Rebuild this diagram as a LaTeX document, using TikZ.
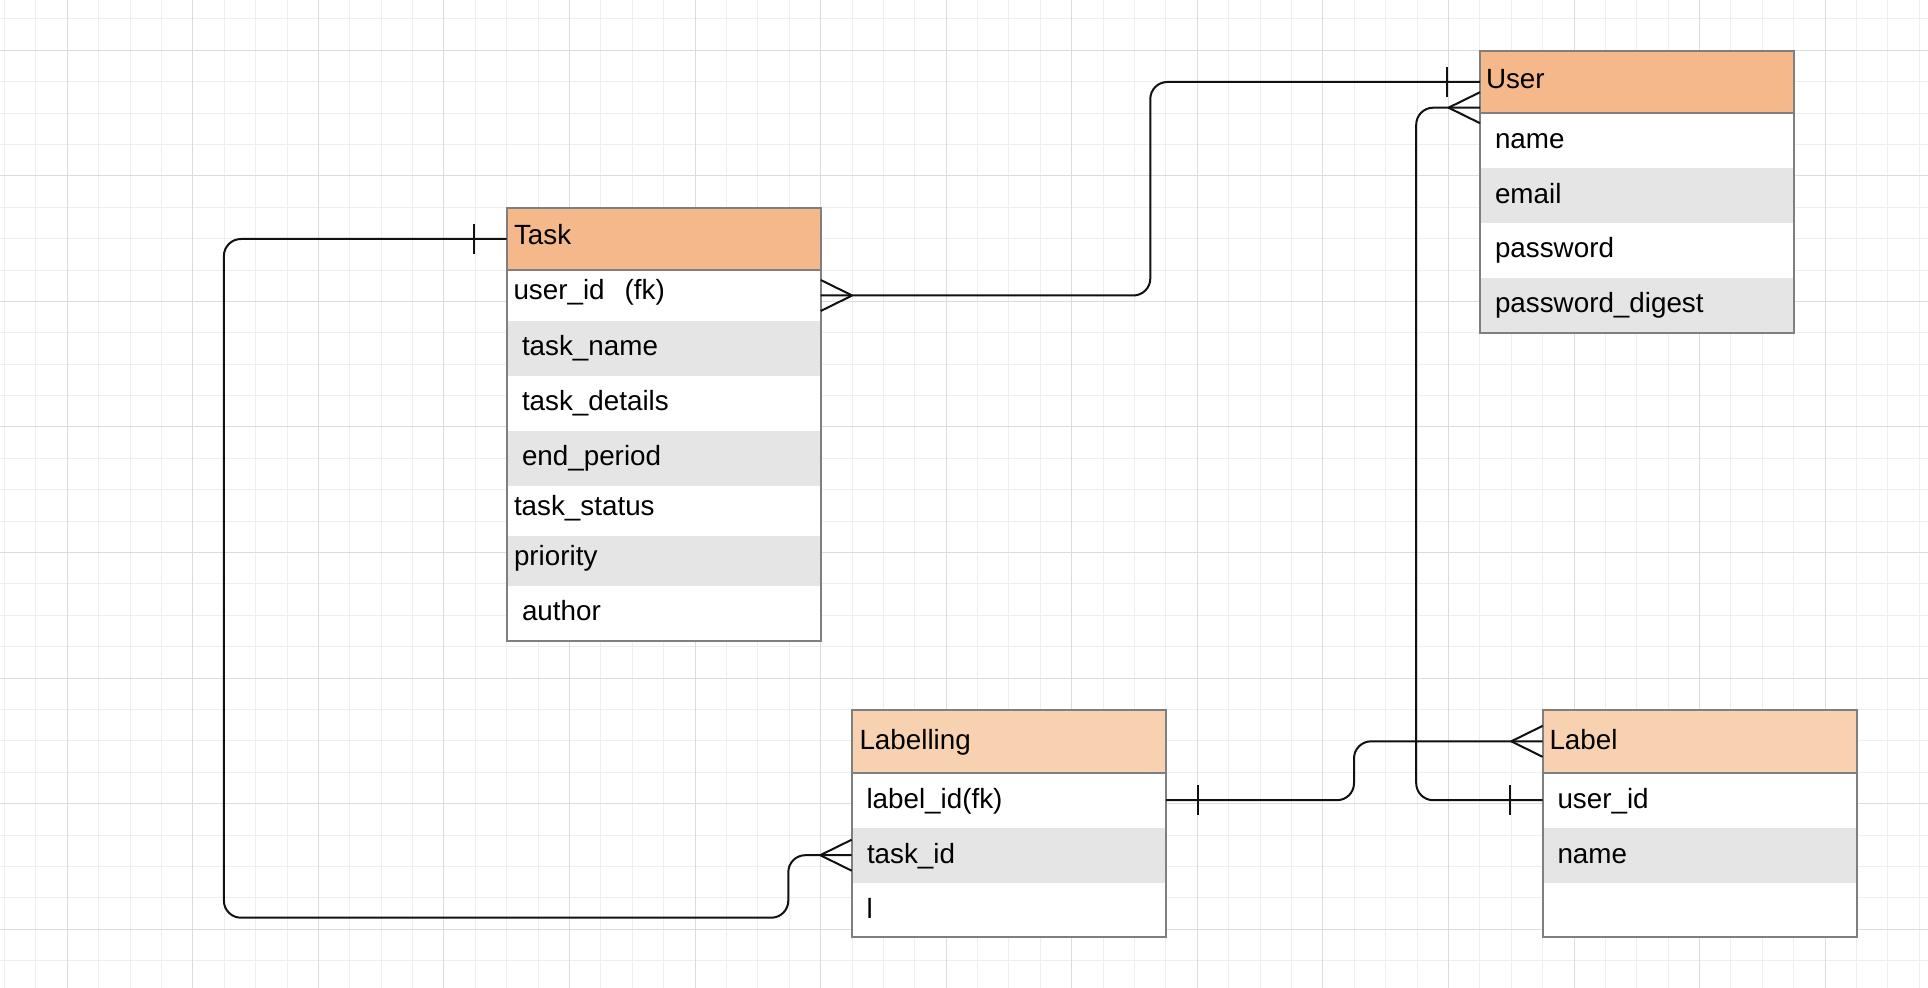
\documentclass[tikz,border=0pt]{standalone}
\usepackage{fontspec}
\setmainfont{Liberation Sans}
\usetikzlibrary{calc}

\definecolor{gridminor}{HTML}{EEEEEE}
\definecolor{gridmajor}{HTML}{DCDCDC}
\definecolor{hdrdark}{HTML}{F4B88A}
\definecolor{hdrlight}{HTML}{F8D1B1}
\definecolor{rowgrey}{HTML}{E5E5E5}
\definecolor{edgegrey}{HTML}{7F7F7F}
\definecolor{ink}{HTML}{111111}

\tikzset{
  rowbox/.style={rectangle, draw=none, inner sep=0pt, outer sep=0pt, anchor=north west},
  border/.style={draw=edgegrey, line width=1pt},
  conn/.style={draw=ink, line width=1pt, rounded corners=8.5pt},
  footline/.style={draw=ink, line width=1pt},
  fieldtext/.style={anchor=base west, inner sep=0pt, outer sep=0pt,
    font=\fontsize{13.9pt}{16pt}\selectfont, text=black}
}

% one table row: name, left x, width, top y, bottom y, fill
\newcommand\erow[6]{\node[rowbox, fill=#6, minimum width={(#3)*0.5pt},
  minimum height={(#5-#4)*0.5pt}] (#1) at (#2,#4) {};}
% crow's foot at an edge point; #2 = -1 opens to the left side of the box, +1 to the right
\newcommand\crowfoot[2]{%
  \draw[footline] ($(#1)+(#2*31.5,0)$) -- ($(#1)+(0,-15.5)$)
                  ($(#1)+(#2*31.5,0)$) -- ($(#1)+(0,15.5)$);}
% single bar crossing a connector at a given offset from its end point
\newcommand\onebar[2]{\draw[footline] ($(#1)+(#2,-15)$) -- ($(#1)+(#2,15)$);}

\begin{document}
\begin{tikzpicture}[x=0.5pt,y=-0.5pt]
\useasboundingbox (0,0) rectangle (1928,988);
\fill[white] (0,0) rectangle (1928,988);

% background grid
\foreach \i in {0,...,61}
  \draw[gridminor, line width=0.5pt] ({4.5+\i*31.39},0) -- ({4.5+\i*31.39},988);
\foreach \j in {0,...,30}
  \draw[gridminor, line width=0.5pt] (0,{18.9+\j*31.39}) -- (1928,{18.9+\j*31.39});
\foreach \i in {0,...,14}
  \draw[gridmajor, line width=0.5pt] ({4.5+(2+4*\i)*31.39},0) -- ({4.5+(2+4*\i)*31.39},988);
\foreach \j in {0,...,7}
  \draw[gridmajor, line width=0.5pt] (0,{18.9+(1+4*\j)*31.39}) -- (1928,{18.9+(1+4*\j)*31.39});

% ---- Task ----
\erow{task-h}{506.7}{314}{207.7}{270.3}{hdrdark}
\erow{task-r1}{506.7}{314}{270.3}{320.7}{white}
\erow{task-r2}{506.7}{314}{320.7}{375.7}{rowgrey}
\erow{task-r3}{506.7}{314}{375.7}{430.7}{white}
\erow{task-r4}{506.7}{314}{430.7}{485.7}{rowgrey}
\erow{task-r5}{506.7}{314}{485.7}{535.7}{white}
\erow{task-r6}{506.7}{314}{535.7}{585.7}{rowgrey}
\erow{task-r7}{506.7}{314}{585.7}{640.7}{white}
\draw[border] (task-h.north west) rectangle (task-r7.south east);
\draw[border] (task-h.south west) -- (task-h.south east);
\node[fieldtext] (task-t0) at (514,245) {Task};
\node[fieldtext] (task-t1) at (513.5,300) {user\_id\ \ \,(fk)};
\node[fieldtext] (task-t2) at (522,355.7) {task\_name};
\node[fieldtext] (task-t3) at (522,410.7) {task\_details};
\node[fieldtext] (task-t4) at (522,465.7) {end\_period};
\node[fieldtext] (task-t5) at (514,516) {task\_status};
\node[fieldtext] (task-t6) at (514,566) {priority};
\node[fieldtext] (task-t7) at (522,620.7) {author};

% ---- User ----
\erow{user-h}{1480}{313.5}{50.7}{113.3}{hdrdark}
\erow{user-r1}{1480}{313.5}{113.3}{167.7}{white}
\erow{user-r2}{1480}{313.5}{167.7}{223.3}{rowgrey}
\erow{user-r3}{1480}{313.5}{223.3}{278.3}{white}
\erow{user-r4}{1480}{313.5}{278.3}{332.7}{rowgrey}
\draw[border] (user-h.north west) rectangle (user-r4.south east);
\draw[border] (user-h.south west) -- (user-h.south east);
\node[fieldtext] (user-t0) at (1486,88.3) {User};
\node[fieldtext] (user-t1) at (1495,148.3) {name};
\node[fieldtext] (user-t2) at (1495,203.3) {email};
\node[fieldtext] (user-t3) at (1495,257.7) {password};
\node[fieldtext] (user-t4) at (1495,312.7) {password\_digest};

% ---- Labelling ----
\erow{lbg-h}{851.7}{314.3}{710}{772.7}{hdrlight}
\erow{lbg-r1}{851.7}{314.3}{772.7}{827.7}{white}
\erow{lbg-r2}{851.7}{314.3}{827.7}{882.7}{rowgrey}
\erow{lbg-r3}{851.7}{314.3}{882.7}{937.3}{white}
\draw[border] (lbg-h.north west) rectangle (lbg-r3.south east);
\draw[border] (lbg-h.south west) -- (lbg-h.south east);
\node[fieldtext] (lbg-t0) at (859.5,749.3) {Labelling};
\node[fieldtext] (lbg-t1) at (866.5,808.3) {label\_id(fk)};
\node[fieldtext] (lbg-t2) at (867,863.3) {task\_id};
\node[fieldtext] (lbg-t3) at (866.5,918.3) {l};

% ---- Label ----
\erow{lbl-h}{1542.7}{314}{710}{772.7}{hdrlight}
\erow{lbl-r1}{1542.7}{314}{772.7}{827.7}{white}
\erow{lbl-r2}{1542.7}{314}{827.7}{882.7}{rowgrey}
\erow{lbl-r3}{1542.7}{314}{882.7}{937.3}{white}
\draw[border] (lbl-h.north west) rectangle (lbl-r3.south east);
\draw[border] (lbl-h.south west) -- (lbl-h.south east);
\node[fieldtext] (lbl-t0) at (1549.5,749.3) {Label};
\node[fieldtext] (lbl-t1) at (1557.5,808.3) {user\_id};
\node[fieldtext] (lbl-t2) at (1557.5,863.3) {name};

% ---- relationships ----
% Task (one) -- Labelling.task_id (many)
\draw[conn] (task-h.west) -| ($(lbg-r2.west)+(-627.8,62.5)$)
  -| ($(lbg-r2.west)+(-63.4,0)$) -- (lbg-r2.west);
\onebar{task-h.west}{-32.5}
\crowfoot{lbg-r2.west}{-1}

% Task.user_id (many) -- User (one)
\draw[conn] (task-r1.east) -| ($(user-h.west)+(-329.7,0)$) -- (user-h.west);
\crowfoot{task-r1.east}{1}
\onebar{user-h.west}{-32.7}

% User (many) -- Label.user_id (one)
\coordinate (user-fk) at ($(user-h.south west)+(0,-5.6)$);
\draw[conn] (user-fk) -| ($(lbl-r1.west)+(-126.5,0)$) -- (lbl-r1.west);
\crowfoot{user-fk}{-1}
\onebar{lbl-r1.west}{-32.7}

% Labelling.label_id (one) -- Label (many)
\draw[conn] (lbg-r1.east) -| ($(lbl-h.west)+(-188.7,0)$) -- (lbl-h.west);
\onebar{lbg-r1.east}{31.7}
\crowfoot{lbl-h.west}{-1}

\end{tikzpicture}
\end{document}
